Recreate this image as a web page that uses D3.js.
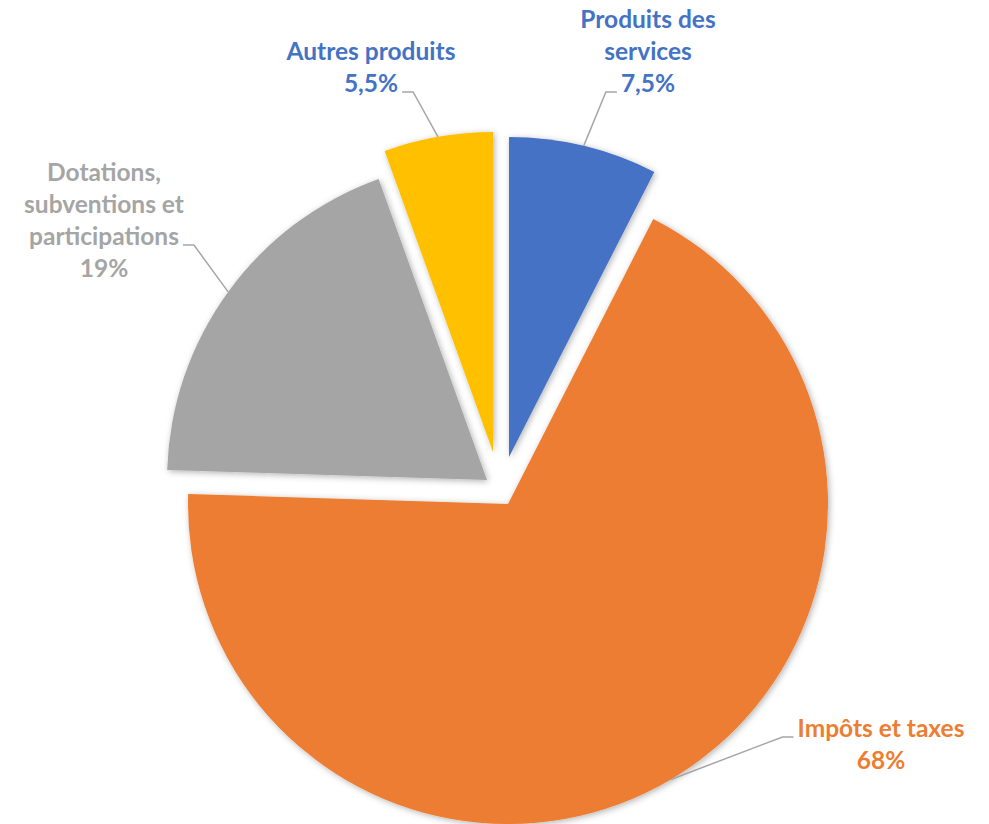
<!DOCTYPE html>
<html>
  <head>
    <meta charset="utf-8">
    <script src="https://d3js.org/d3.v7.min.js"></script>
    <style>
      body { margin: 0; background: #fff; }
      svg text { font-family: Lato, "Open Sans", sans-serif; font-weight: 700; }
    </style>
  </head>
  <body>
    <script>
      // data
      var categories = ["Produits des services", "Impôts et taxes", "Dotations, subventions et participations", "Autres produits"];
      var values = [7.5, 68, 19, 5.5];
      var valueLabels = ["7,5%", "68%", "19%", "5,5%"];
      var nameLines = [["Produits des", "services"], ["Impôts et taxes"], ["Dotations,", "subventions et", "participations"], ["Autres produits"]];

      // styles / layout
      var colors = ["#4472C4", "#ED7D31", "#A5A5A5", "#FFC000"];
      var labelColors = ["#4472C4", "#ED7D31", "#A5A5A5", "#4472C4"];
      var explode = [[1, -47], [0, 0], [-21, -24], [-15, -52]];
      // label: centre x, first baseline, side the leader joins, which line it joins
      var labelLayout = [
        {x: 648, y: 28, side: "left", line: 2},
        {x: 881, y: 737, side: "left", line: 0},
        {x: 104, y: 181, side: "right", line: 2},
        {x: 371, y: 60, side: "right", line: 1}
      ];

      var width = 989, height = 824;
      var cx = 508, cy = 504, radius = 320;
      var lineHeight = 32;

      var svg = d3.select("body").append("svg")
        .attr("width", width)
        .attr("height", height);

      var defs = svg.append("defs");
      defs.append("filter")
        .attr("id", "shadow")
        .attr("x", "-10%").attr("y", "-10%")
        .attr("width", "120%").attr("height", "120%")
        .append("feDropShadow")
        .attr("dx", 1.5).attr("dy", 1.5)
        .attr("stdDeviation", 3)
        .attr("flood-color", "#000")
        .attr("flood-opacity", 0.3);

      var data = categories.map(function(c, i) {
        return {name: c, value: values[i], i: i};
      });

      var pie = d3.pie().sort(null).value(function(d) { return d.value; });
      var arcs = pie(data);

      var arc = d3.arc().innerRadius(0).outerRadius(radius);
      var edge = d3.arc().innerRadius(radius).outerRadius(radius);

      var g = svg.append("g").attr("transform", "translate(" + cx + "," + cy + ")");

      //slices
      g.selectAll("path.slice")
        .data(arcs)
        .enter()
        .append("path")
        .attr("class", "slice")
        .attr("transform", function(d) { var o = explode[d.data.i]; return "translate(" + o[0] + "," + o[1] + ")"; })
        .attr("d", arc)
        .attr("fill", function(d) { return colors[d.data.i]; })
        .attr("filter", "url(#shadow)");

      //labels
      arcs.forEach(function(d) {
        var i = d.data.i;
        var L = labelLayout[i];
        var lines = nameLines[i].concat([valueLabels[i]]);
        var t = svg.append("g");
        var texts = [];
        lines.forEach(function(s, k) {
          texts.push(t.append("text")
            .attr("x", L.x)
            .attr("y", L.y + k * lineHeight)
            .attr("text-anchor", "middle")
            .attr("fill", labelColors[i])
            .style("font-size", "24.5px")
            .text(s));
        });

        // leader line
        var w = texts[L.line].node().getComputedTextLength();
        var ly = L.y + L.line * lineHeight;
        var endX = L.side === "left" ? L.x - w / 2 - 4 : L.x + w / 2 + 4;
        var elbowX = L.side === "left" ? endX - 11 : endX + 11;
        var c = edge.centroid(d);
        var o = explode[i];
        var sx = cx + o[0] + c[0], sy = cy + o[1] + c[1];
        svg.append("path")
          .attr("d", d3.line()([[sx, sy], [elbowX, ly], [endX, ly]]))
          .attr("fill", "none")
          .attr("stroke", "#A6A6A6")
          .attr("stroke-width", 1.5);
      });
    </script>
  </body>
</html>
